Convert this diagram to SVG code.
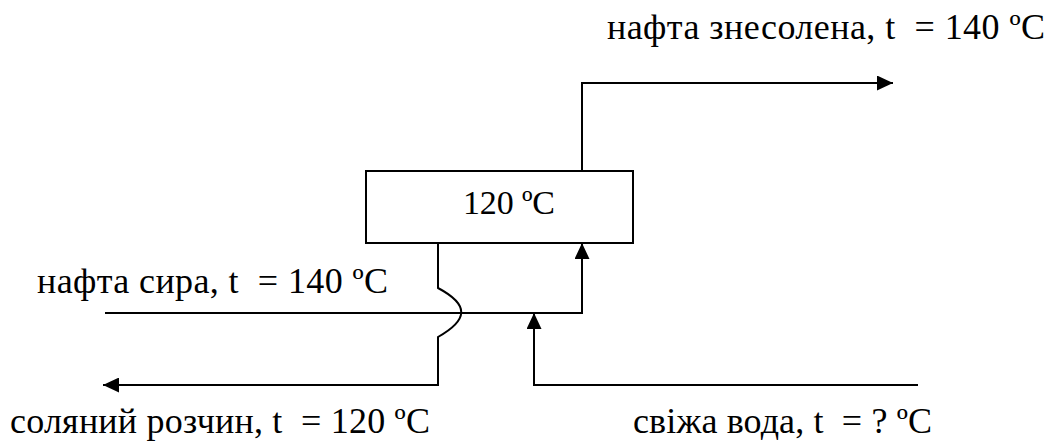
<svg xmlns="http://www.w3.org/2000/svg" width="1054" height="444" viewBox="0 0 1054 444">
<style>
text{font-family:"Liberation Serif","Times New Roman",serif;font-size:36px;fill:#000;white-space:pre}
.ln{fill:none;stroke:#000;stroke-width:2}
</style>
<defs>
<marker id="ah" viewBox="0 0 16 15" refX="16" refY="7.5" markerWidth="16" markerHeight="15" markerUnits="userSpaceOnUse" orient="auto">
<path d="M0,0 L16,7.5 L0,15 z" fill="#000"/>
</marker>
</defs>
<rect width="1054" height="444" fill="#fff"/>
<g id="desalter">
<rect x="366" y="171" width="267" height="72" class="ln"/>
<text x="463" y="214" style="font-size:34px" textLength="92" lengthAdjust="spacing">120 ºC</text>
</g>
<g id="labels">
<text x="607" y="39" textLength="438" lengthAdjust="spacing">нафта знесолена, t  = 140 ºC</text>
<text x="37" y="293" textLength="351" lengthAdjust="spacing">нафта сира, t  = 140 ºC</text>
<text x="10" y="433" textLength="420" lengthAdjust="spacing">соляний розчин, t  = 120 ºC</text>
<text x="633" y="433" textLength="299" lengthAdjust="spacing">свіжа вода, t  = ? ºC</text>
</g>
<g id="connectors">
<path class="ln" d="M582,171 V83 H893" marker-end="url(#ah)"/>
<path class="ln" d="M105,313 H582 V243" marker-end="url(#ah)"/>
<path class="ln" d="M438,243 V288 C470,305 468,320 438,337 V385 H103" marker-end="url(#ah)"/>
<path class="ln" d="M918,385 H534 V313" marker-end="url(#ah)"/>
</g>
</svg>
